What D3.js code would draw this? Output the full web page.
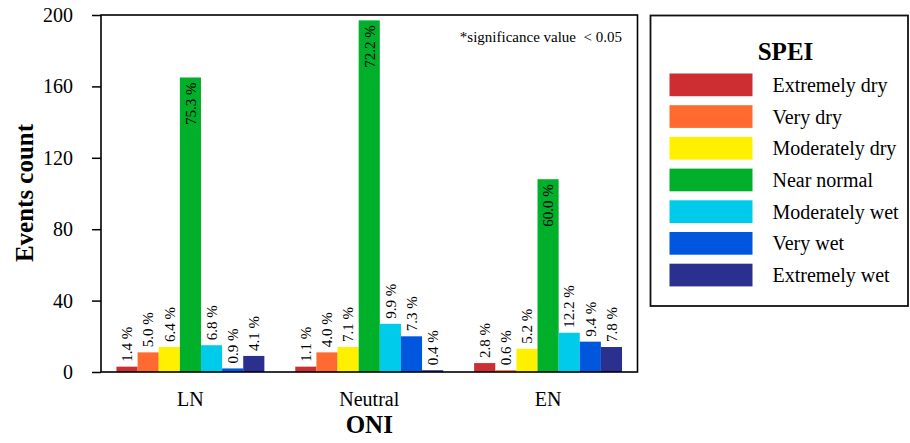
<!DOCTYPE html>
<html>
<head>
<meta charset="utf-8">
<script src="https://cdn.jsdelivr.net/npm/d3@7"></script>
<style>
  html, body { margin: 0; padding: 0; background: #fff; }
  svg { display: block; font-family: "Liberation Serif", "Times New Roman", serif; }
</style>
</head>
<body>
<svg id="chart" width="910" height="443"></svg>
<script>
// ONI phases on the x axis
const phases = ["LN", "Neutral", "EN"];
// SPEI classes (one bar per class in each phase)
const classes = ["Extremely dry", "Very dry", "Moderately dry", "Near normal",
                 "Moderately wet", "Very wet", "Extremely wet"];
const classColors = ["#cd2e32", "#ff6a30", "#fff000", "#00b02a",
                     "#00cbea", "#0057de", "#2b2f8e"];
// Event counts per phase, in class order
const countsLN      = [3, 11, 14, 165, 15, 2, 9];
const countsNeutral = [3, 11, 14, 197, 27, 20, 1];
const countsEN      = [5, 1, 13, 108, 22, 17, 14];
// Share labels per phase, in class order
const pctLN      = ["1.4 %", "5.0 %", "6.4 %", "75.3 %", "6.8 %", "0.9 %", "4.1 %"];
const pctNeutral = ["1.1 %", "4.0 %", "7.1 %", "72.2 %", "9.9 %", "7.3 %", "0.4 %"];
const pctEN      = ["2.8 %", "0.6 %", "5.2 %", "60.0 %", "12.2 %", "9.4 %", "7.8 %"];
const yTicks = [0, 40, 80, 120, 160, 200];

(function draw() {
  const counts = [countsLN, countsNeutral, countsEN];
  const pcts = [pctLN, pctNeutral, pctEN];

  const svg = d3.select("#chart");
  const pLeft = 101, pRight = 637.5, pTop = 15, pBottom = 372;

  const x0 = d3.scaleBand().domain(phases).range([pLeft, pRight])
    .paddingInner(0.173).paddingOuter(0.0865);
  const x1 = d3.scaleBand().domain(classes).range([0, x0.bandwidth()]);
  const y = d3.scaleLinear().domain([0, 200]).range([pBottom, pTop]);
  const color = d3.scaleOrdinal().domain(classes).range(classColors);

  // bars
  const groups = svg.append("g").selectAll("g")
    .data(phases.map((p, i) => ({ phase: p, values: counts[i], labels: pcts[i] })))
    .join("g")
    .attr("transform", d => `translate(${x0(d.phase)},0)`);

  groups.selectAll("rect")
    .data(d => classes.map((c, j) => ({ cls: c, v: d.values[j] })))
    .join("rect")
    .attr("x", d => x1(d.cls))
    .attr("width", x1.bandwidth())
    .attr("y", d => y(d.v))
    .attr("height", d => y(0) - y(d.v))
    .attr("fill", d => color(d.cls));

  // share labels: above the bar, or inside the top of the tallest bar
  groups.selectAll("text.pct")
    .data(d => classes.map((c, j) => ({ cls: c, v: d.values[j], label: d.labels[j], inside: d.values[j] > 60 })))
    .join("text")
    .attr("class", "pct")
    .attr("transform", d => {
      const cx = x1(d.cls) + x1.bandwidth() / 2;
      const yy = d.inside ? y(d.v) + 5 : y(d.v) - 5;
      return `translate(${cx},${yy}) rotate(-90)`;
    })
    .attr("dy", "0.35em")
    .attr("text-anchor", d => d.inside ? "end" : "start")
    .attr("font-size", 15)
    .attr("fill", "#000")
    .text(d => d.label);

  // y axis
  const yAxis = svg.append("g")
    .attr("transform", `translate(${pLeft},0)`)
    .call(d3.axisLeft(y).tickValues(yTicks).tickSize(9).tickSizeOuter(0).tickPadding(19));
  yAxis.select(".domain").remove();
  yAxis.selectAll(".tick line").attr("stroke", "#000").attr("stroke-width", 1.5);
  yAxis.selectAll("text").attr("font-size", 20).attr("fill", "#000")
    .attr("font-family", "Liberation Serif, Times New Roman, serif");

  // x axis labels
  const xAxis = svg.append("g")
    .attr("transform", `translate(0,${pBottom})`)
    .call(d3.axisBottom(x0).tickSize(0).tickPadding(20));
  xAxis.select(".domain").remove();
  xAxis.selectAll("text").attr("font-size", 20).attr("fill", "#000")
    .attr("font-family", "Liberation Serif, Times New Roman, serif");

  // plot frame
  svg.append("rect")
    .attr("x", pLeft).attr("y", pTop)
    .attr("width", pRight - pLeft).attr("height", pBottom - pTop)
    .attr("fill", "none").attr("stroke", "#000").attr("stroke-width", 1.6);

  // axis titles
  svg.append("text")
    .attr("transform", `translate(33,193) rotate(-90)`)
    .attr("text-anchor", "middle")
    .attr("font-size", 25).attr("font-weight", "bold")
    .text("Events count");
  svg.append("text")
    .attr("x", (pLeft + pRight) / 2).attr("y", 433)
    .attr("text-anchor", "middle")
    .attr("font-size", 25).attr("font-weight", "bold")
    .text("ONI");

  // significance note
  svg.append("text")
    .attr("x", 622).attr("y", 42)
    .attr("text-anchor", "end")
    .attr("font-size", 15)
    .style("white-space", "pre")
    .text("*significance value  < 0.05");

  // legend
  const lg = svg.append("g");
  lg.append("rect")
    .attr("x", 650.5).attr("y", 15.5).attr("width", 257.5).attr("height", 290.5)
    .attr("fill", "#fff").attr("stroke", "#111").attr("stroke-width", 1.8);
  lg.append("text")
    .attr("x", 785.5).attr("y", 60)
    .attr("text-anchor", "middle")
    .attr("font-size", 25).attr("font-weight", "bold")
    .text("SPEI");
  const rows = lg.selectAll("g.row").data(classes).join("g")
    .attr("class", "row")
    .attr("transform", (d, i) => `translate(669.5,${73.5 + i * 31.7})`);
  rows.append("rect")
    .attr("width", 83).attr("height", 22.7)
    .attr("fill", d => color(d));
  rows.append("text")
    .attr("x", 103).attr("y", 11.35).attr("dy", "0.35em")
    .attr("font-size", 20)
    .text(d => d);
})();
</script>
</body>
</html>
